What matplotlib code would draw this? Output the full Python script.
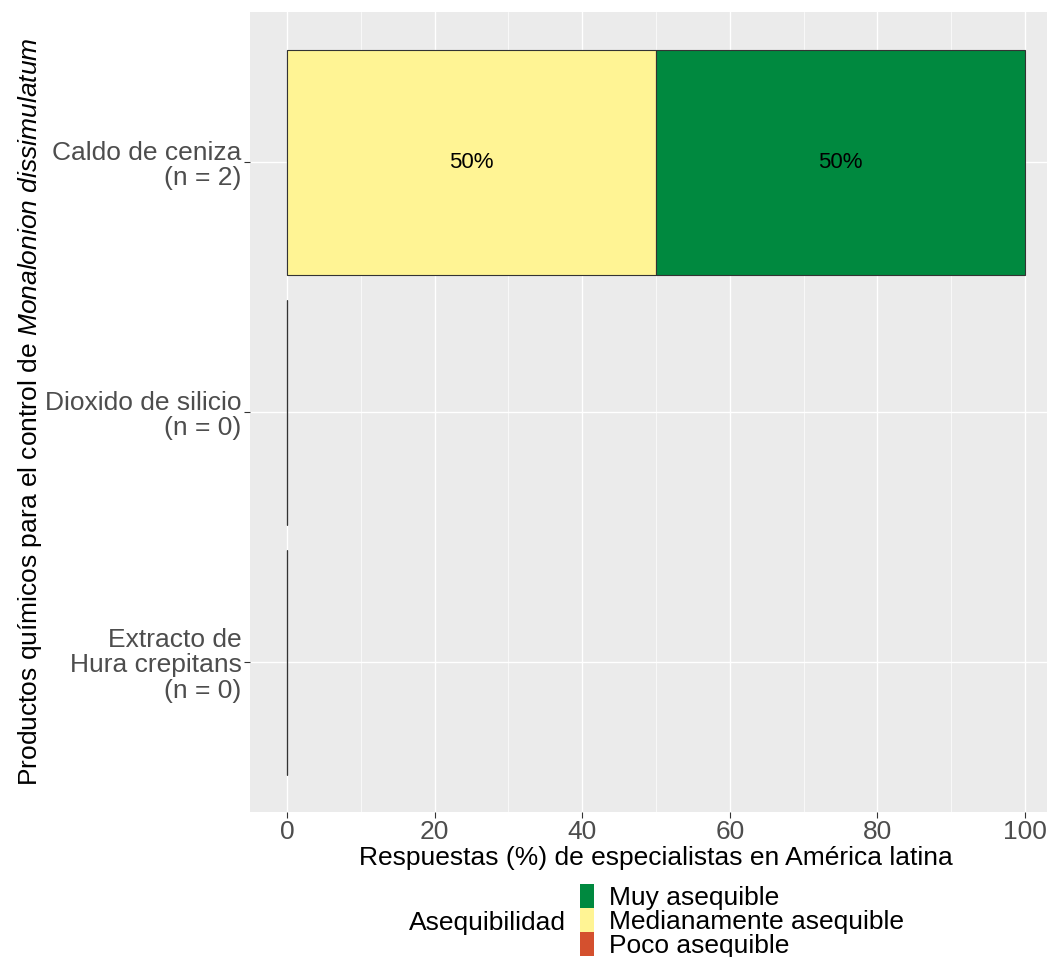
import numpy as np
import matplotlib.pyplot as plt
from matplotlib.patches import Rectangle

plt.rcParams['font.family'] = ['Liberation Sans', 'DejaVu Sans']
plt.rcParams['mathtext.fontset'] = 'custom'
plt.rcParams['mathtext.rm'] = 'Liberation Sans'
plt.rcParams['mathtext.it'] = 'Liberation Sans:italic'

# data
categories = ["Caldo de ceniza\n(n = 2)", "Dioxido de silicio\n(n = 0)",
              "Extracto de\nHura crepitans\n(n = 0)"]
poco = [0, 0, 0]
medianamente = [50, 0, 0]
muy = [50, 0, 0]
levels = ["Muy asequible", "Medianamente asequible", "Poco asequible"]
colors = {"Muy asequible": "#00893F", "Medianamente asequible": "#FFF494",
          "Poco asequible": "#D4502E"}

W, H = 1047, 957
fig = plt.figure(figsize=(W / 100, H / 100), dpi=100)
ax = fig.add_axes([250 / W, 1 - 812 / H, 812 / W, 800 / H])
ax.set_facecolor("#EBEBEB")

y = np.arange(len(categories))
left = np.zeros(len(categories))
for name, vals in [("Poco asequible", poco), ("Medianamente asequible", medianamente),
                   ("Muy asequible", muy)]:
    vals = np.array(vals, dtype=float)
    ax.barh(y, vals, left=left, height=0.9, color=colors[name],
            edgecolor="#333333", linewidth=0.8, zorder=3)
    for yi, l, v in zip(y, left, vals):
        if v > 0:
            ax.text(l + v / 2, yi, f"{v:.0f}%", ha="center", va="center",
                    fontsize=16, zorder=4)
    left += vals

ax.set_xlim(-5, 105)
ax.set_ylim(len(categories) - 0.4, -0.6)
ax.set_xticks([0, 20, 40, 60, 80, 100])
ax.set_xticks([10, 30, 50, 70, 90], minor=True)
ax.set_yticks(y)
ax.set_yticklabels(categories, linespacing=1.1)
ax.grid(True, which="major", color="white", linewidth=1.0, zorder=0)
ax.grid(True, which="minor", axis="x", color="white", linewidth=0.5, zorder=0)
ax.set_axisbelow(True)
for s in ax.spines.values():
    s.set_visible(False)
ax.tick_params(axis="both", which="major", labelsize=19, labelcolor="#4D4D4D",
               color="#333333", length=4, width=0.8, pad=2)
ax.tick_params(axis="both", which="minor", length=0)

ax.set_xlabel("Respuestas (%) de especialistas en América latina", fontsize=19,
              labelpad=1)
ax.set_ylabel(r"Productos químicos para el control de $\it{Monalonion\ dissimulatum}$",
              fontsize=19, va="bottom")
ax.yaxis.set_label_coords(-206 / 812, 0.5)

# legend (keys stacked tightly, title on the left)
key_x, key_w, key_h, key_top = 580, 14, 24, 884
for i, lv in enumerate(levels):
    top = key_top + i * key_h
    fig.add_artist(Rectangle((key_x / W, 1 - (top + key_h) / H), key_w / W, key_h / H,
                             transform=fig.transFigure, facecolor=colors[lv],
                             edgecolor="none"))
    fig.text((key_x + key_w + 15) / W, 1 - (top + key_h / 2 + 2) / H, lv,
             ha="left", va="center", fontsize=19)
fig.text(566 / W, 1 - 923 / H, "Asequibilidad", ha="right", va="center", fontsize=19)

fig.savefig("out.png", dpi=100)
